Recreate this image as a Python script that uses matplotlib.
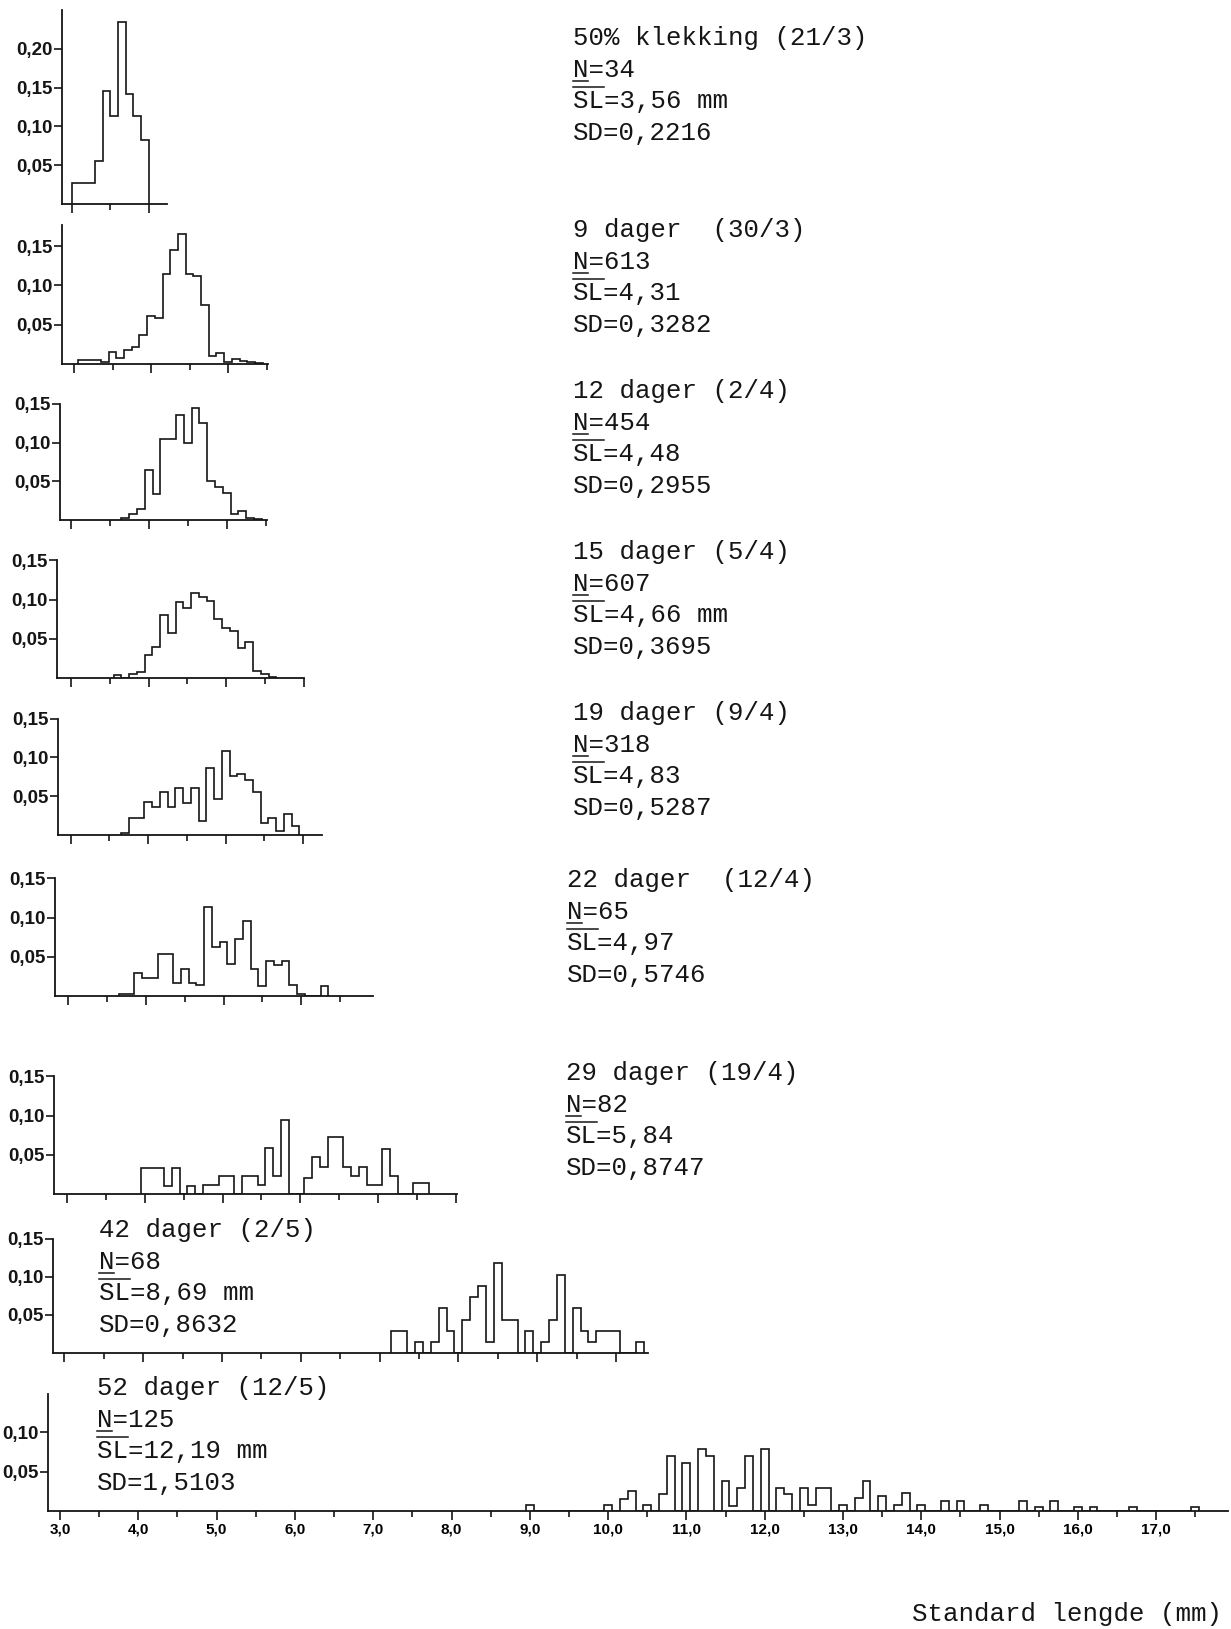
import numpy as np
import matplotlib
matplotlib.use('Agg')
import matplotlib.pyplot as plt
from matplotlib.lines import Line2D

W, H = 1231, 1629

# relative length frequencies, 0.1 mm classes; *_lo is the lower edge of the first class
p1_lo = 3.0
p1_freq = [0.027, 0.027, 0.027, 0.055, 0.146, 0.114, 0.234, 0.142, 0.114, 0.083]

p2_lo = 3.05
p2_freq = [0.005, 0.005, 0.005, 0.002, 0.015, 0.007, 0.018, 0.021, 0.037, 0.061,
           0.058, 0.114, 0.145, 0.165, 0.115, 0.112, 0.075, 0.010, 0.014, 0.002,
           0.006, 0.004, 0.002, 0.001]

p3_lo = 3.65
p3_freq = [0.003, 0.008, 0.014, 0.064, 0.034, 0.105, 0.105, 0.136, 0.100, 0.145,
           0.125, 0.051, 0.043, 0.035, 0.008, 0.012, 0.003, 0.001]

p4_lo = 3.55
p4_freq = [0.004, 0.0, 0.005, 0.008, 0.029, 0.039, 0.080, 0.057, 0.097, 0.089,
           0.108, 0.103, 0.098, 0.075, 0.064, 0.060, 0.038, 0.046, 0.009, 0.005,
           0.001]

p5_lo = 3.65
p5_freq = [0.003, 0.022, 0.022, 0.042, 0.036, 0.055, 0.036, 0.061, 0.041, 0.061,
           0.018, 0.086, 0.046, 0.108, 0.076, 0.079, 0.071, 0.055, 0.016, 0.022,
           0.005, 0.027, 0.012]

p6_lo = 3.65
p6_freq = [0.003, 0.003, 0.029, 0.023, 0.023, 0.054, 0.054, 0.017, 0.034, 0.016,
           0.014, 0.114, 0.062, 0.069, 0.041, 0.073, 0.096, 0.034, 0.013, 0.045,
           0.040, 0.045, 0.014, 0.003, 0.0, 0.0, 0.013]

p7_lo = 3.95
p7_freq = [0.033, 0.033, 0.033, 0.010, 0.033, 0.0, 0.010, 0.0, 0.011, 0.011,
           0.023, 0.023, 0.0, 0.023, 0.023, 0.011, 0.059, 0.023, 0.094, 0.0,
           0.0, 0.020, 0.047, 0.034, 0.073, 0.073, 0.034, 0.023, 0.034, 0.011,
           0.011, 0.058, 0.023, 0.0, 0.0, 0.0145, 0.0145]

p8_lo = 7.15
p8_freq = [0.029, 0.029, 0.0, 0.0147, 0.0, 0.0147, 0.059, 0.029, 0.0, 0.044,
           0.0735, 0.088, 0.0147, 0.118, 0.044, 0.044, 0.0, 0.029, 0.0, 0.0147,
           0.044, 0.103, 0.0, 0.059, 0.029, 0.0147, 0.029, 0.029, 0.029, 0.0,
           0.0, 0.0147]

# 52 days: only the occupied classes (class mid-points)
p9_mid = [9.0, 10.0, 10.2, 10.3, 10.5, 10.7, 10.8, 11.0, 11.2, 11.3, 11.5, 11.6,
          11.7, 11.8, 12.0, 12.2, 12.3, 12.5, 12.6, 12.7, 12.8, 13.0, 13.2, 13.3,
          13.5, 13.7, 13.8, 14.0, 14.3, 14.5, 14.8, 15.3, 15.5, 15.7, 16.0, 16.2,
          16.7, 17.5]
p9_freq_sparse = [0.007, 0.007, 0.015, 0.025, 0.007, 0.021, 0.070, 0.061, 0.079,
                  0.070, 0.038, 0.006, 0.029, 0.070, 0.079, 0.029, 0.021, 0.029,
                  0.008, 0.029, 0.029, 0.008, 0.017, 0.038, 0.019, 0.008, 0.023,
                  0.008, 0.013, 0.013, 0.008, 0.013, 0.005, 0.013, 0.005, 0.005,
                  0.005, 0.005]

p9_lo = p9_mid[0] - 0.05
p9_freq = np.zeros(int(round((p9_mid[-1] - p9_mid[0]) / 0.1)) + 1)
for m, f in zip(p9_mid, p9_freq_sparse):
    p9_freq[int(round((m - p9_mid[0]) / 0.1))] = f

labels = [
    ["50% klekking (21/3)", "N=34", "SL=3,56 mm", "SD=0,2216"],
    ["9 dager  (30/3)", "N=613", "SL=4,31", "SD=0,3282"],
    ["12 dager (2/4)", "N=454", "SL=4,48", "SD=0,2955"],
    ["15 dager (5/4)", "N=607", "SL=4,66 mm", "SD=0,3695"],
    ["19 dager (9/4)", "N=318", "SL=4,83", "SD=0,5287"],
    ["22 dager  (12/4)", "N=65", "SL=4,97", "SD=0,5746"],
    ["29 dager (19/4)", "N=82", "SL=5,84", "SD=0,8747"],
    ["42 dager (2/5)", "N=68", "SL=8,69 mm", "SD=0,8632"],
    ["52 dager (12/5)", "N=125", "SL=12,19 mm", "SD=1,5103"],
]
# highest labelled frequency on each y axis
ytick_max = [0.20, 0.15, 0.15, 0.15, 0.15, 0.15, 0.15, 0.15, 0.10]

# pixel layout: y-axis x, axis right end, baseline y, px per 0.05, y top,
# x of 3,0 mm, px per mm
layout = [
    (62, 167, 204, 38.8, 0.25, 72.0, 76.5),
    (62, 268, 364, 39.3, 0.177, 74.0, 77.0),
    (60, 267, 520, 38.7, 0.15, 70.7, 78.0),
    (57, 304, 678, 39.2, 0.15, 71.0, 77.5),
    (58, 322, 835, 38.8, 0.15, 70.7, 77.5),
    (55, 373, 996, 39.2, 0.15, 68.3, 77.6),
    (54, 457, 1194, 39.2, 0.15, 66.7, 77.9),
    (53, 648, 1353, 38.0, 0.15, 64.4, 78.8),
    (48, 1228, 1511, 39.5, 0.148, 60.0, 78.3),
]
# text block: left x and centre y of first line, line step
text_pos = [
    (573, 38), (573, 230), (573, 391), (573, 552), (573, 713),
    (567, 880), (566, 1073), (99, 1230), (97, 1388),
]
line_step = 31.7

data = [(p1_lo, p1_freq), (p2_lo, p2_freq), (p3_lo, p3_freq), (p4_lo, p4_freq),
        (p5_lo, p5_freq), (p6_lo, p6_freq), (p7_lo, p7_freq), (p8_lo, p8_freq),
        (p9_lo, p9_freq)]

ink = '#151515'
tick_font = dict(family=['Liberation Sans', 'DejaVu Sans'], weight='bold', size=13.5)
mono = ['Liberation Mono', 'DejaVu Sans Mono']
fs_text = 18.5
cw = 0.6 * fs_text * 100 / 72.0

fig = plt.figure(figsize=(W / 100.0, H / 100.0), dpi=100)
fig.patch.set_facecolor('white')


def fx(x):
    return x / W


def fy(y):
    return 1 - y / H


for i, ((lo, freq), (xl, xr, yb, p05, ytop, x3, k)) in enumerate(zip(data, layout)):
    yt = yb - ytop / 0.05 * p05
    ax = fig.add_axes([fx(xl), fy(yb), (xr - xl) / W, (yb - yt) / H])
    xmin = 3 + (xl - x3) / k
    xmax = 3 + (xr - x3) / k
    ax.set_xlim(xmin, xmax)
    ax.set_ylim(0, ytop)
    edges = lo + 0.1 * np.arange(len(freq) + 1)
    ax.stairs(freq, edges, color=ink, lw=1.2, baseline=0)
    for s in ('top', 'right'):
        ax.spines[s].set_visible(False)
    for s in ('left', 'bottom'):
        ax.spines[s].set_linewidth(1.3)
        ax.spines[s].set_color(ink)
    ax.set_xticks(np.arange(3.0, xmax + 1e-6, 1.0))
    ax.set_xticks(np.arange(3.5, xmax + 1e-6, 1.0), minor=True)
    ax.tick_params(axis='x', which='major', length=6.5, width=1.2, color=ink)
    ax.tick_params(axis='x', which='minor', length=4, width=1.2, color=ink)
    if i == len(data) - 1:
        ax.set_xticklabels(['%d,0' % v for v in np.arange(3, xmax + 1e-6, 1.0)],
                           fontdict=dict(tick_font, size=11))
        ax.tick_params(axis='x', which='major', pad=2)
    else:
        ax.set_xticklabels([])
    yv = np.arange(0.05, ytick_max[i] + 0.001, 0.05)
    ax.set_yticks(yv)
    ax.set_yticklabels([('%.2f' % v).replace('.', ',') for v in yv], fontdict=tick_font)
    ax.tick_params(axis='y', length=5.5, width=1.2, pad=1.5, color=ink, labelcolor=ink)
    ax.patch.set_alpha(0)

    # description block
    tx, ty = text_pos[i]
    for j, s in enumerate(labels[i]):
        fig.text(fx(tx), fy(ty + j * line_step), s, family=mono, size=fs_text,
                 color=ink, ha='left', va='center')
    yn = ty + line_step
    ysl = ty + 2 * line_step
    fig.add_artist(Line2D([fx(tx), fx(tx + cw)], [fy(yn + 11), fy(yn + 11)],
                          color=ink, lw=1.1))
    fig.add_artist(Line2D([fx(tx), fx(tx + 2 * cw)], [fy(ysl - 14), fy(ysl - 14)],
                          color=ink, lw=1.1))

fig.text(fx(912), fy(1614), "Standard lengde (mm)", family=mono, size=fs_text,
         color=ink, ha='left', va='center')

fig.savefig('out.png', dpi=100, facecolor='white')
